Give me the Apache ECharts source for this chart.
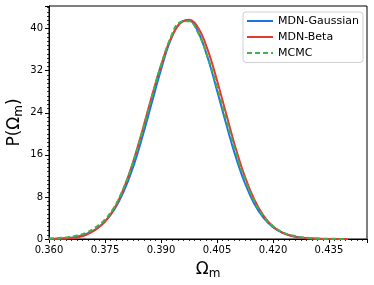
<!DOCTYPE html>
<html>
<head>
<meta charset="utf-8">
<script src="https://cdn.jsdelivr.net/npm/echarts@6/dist/echarts.min.js"></script>
<style>html,body{margin:0;padding:0;background:#fff}#c{width:374px;height:285px}</style>
</head>
<body>
<div id="c"></div>
<script>
const omegaM = [0.360,0.3625,0.365,0.3675,0.370,0.3725,0.375,0.3775,0.380,0.3825,0.385,0.3875,0.390,0.3925,0.395,0.3975,0.400,0.4025,0.405,0.4075,0.410,0.4125,0.415,0.4175,0.420,0.4225,0.425,0.4275,0.430,0.4325,0.435,0.4375,0.440];
const mdnGaussian = [0.05,0.1,0.2,0.45,0.95,1.85,3.3,5.6,9.0,13.6,19.4,25.8,32.2,37.7,41.0,41.6,39.3,34.5,28.3,21.8,15.7,10.6,6.7,4.0,2.25,1.2,0.6,0.28,0.12,0.05,0.02,0.01,0];
const mdnBeta = [0.0,0.02,0.08,0.3,0.8,1.75,3.3,5.8,9.6,14.6,20.6,27.0,33.0,37.9,40.9,41.7,40.1,36.0,30.2,23.7,17.3,11.8,7.5,4.4,2.4,1.2,0.55,0.22,0.08,0.02,0.0,0,0];
const mcmc = [0.1,0.2,0.35,0.65,1.2,2.2,3.7,6.1,9.7,14.5,20.4,26.9,33.0,38.1,41.2,41.4,39.1,34.6,28.9,22.6,16.5,11.3,7.2,4.3,2.45,1.3,0.7,0.35,0.17,0.08,0.04,0.02,0];
const seriesNames = ['MDN-Gaussian','MDN-Beta','MCMC'];
const xTicks = {min:0.360, max:0.4452, interval:0.015};
const yTicks = {min:0, max:44.3, interval:8};

const FONT = 'DejaVu Sans';
function pairs(ys){ return omegaM.map((x,i)=>[x, ys[i]]); }

const chart = echarts.init(document.getElementById('c'), null, {renderer:'canvas'});
const axisCommon = {
  axisLine:{show:true, lineStyle:{color:'#000', width:1}},
  axisTick:{show:true, inside:false, length:4, lineStyle:{color:'#000', width:1}},
  minorTick:{show:true, splitNumber:10, length:2, lineStyle:{color:'#000', width:0.8}},
  splitLine:{show:false},
  axisLabel:{color:'#000', fontFamily:FONT, fontSize:10, showMaxLabel:false},
  nameLocation:'middle',
  nameTextStyle:{
    color:'#000', fontFamily:FONT,
    rich:{
      a:{fontFamily:FONT, fontSize:17, color:'#000'},
      b:{fontFamily:FONT, fontSize:12, color:'#000', padding:[9,0,0,0]}
    }
  }
};
chart.setOption({
  animation:false,
  backgroundColor:'#fff',
  grid:{left:49, right:7, top:6, bottom:46, show:true, borderColor:'#000', borderWidth:1, containLabel:false, outerBoundsMode:'none'},
  legend:{
    orient:'vertical', left:243, top:12,
    padding:[3.5,4,4,3], itemGap:5, itemWidth:26, itemHeight:11,
    borderColor:'#d0d0d0', borderWidth:1, borderRadius:3,
    backgroundColor:'rgba(255,255,255,0.8)',
    itemStyle:{opacity:0},
    textStyle:{fontFamily:FONT, fontSize:11, color:'#000'},
    data:seriesNames
  },
  xAxis:Object.assign({}, axisCommon, {
    type:'value', min:xTicks.min, max:xTicks.max, interval:xTicks.interval,
    name:'{a|Ω}{b|m}', nameGap:20,
    axisLabel:Object.assign({}, axisCommon.axisLabel, {margin:6, formatter:v=>v.toFixed(3)})
  }),
  yAxis:Object.assign({}, axisCommon, {
    type:'value', min:yTicks.min, max:yTicks.max, interval:yTicks.interval,
    name:'{a|P(Ω}{b|m}{a|)}', nameGap:24, nameRotate:90, nameMoveOverlap:false,
    axisLabel:Object.assign({}, axisCommon.axisLabel, {margin:6})
  }),
  series:[
    {name:seriesNames[0], type:'line', data:pairs(mdnGaussian), smooth:0.4, showSymbol:false, symbol:'none',
     lineStyle:{color:'#1a73e8', width:2}, itemStyle:{color:'#1a73e8'}},
    {name:seriesNames[1], type:'line', data:pairs(mdnBeta), smooth:0.4, showSymbol:false, symbol:'none',
     lineStyle:{color:'#e53a2f', width:2}, itemStyle:{color:'#e53a2f'}},
    {name:seriesNames[2], type:'line', data:pairs(mcmc), smooth:0.4, showSymbol:false, symbol:'none',
     lineStyle:{color:'#3bb54a', width:2, type:[5,3]}, itemStyle:{color:'#3bb54a'}}
  ]
});
</script>
</body>
</html>
